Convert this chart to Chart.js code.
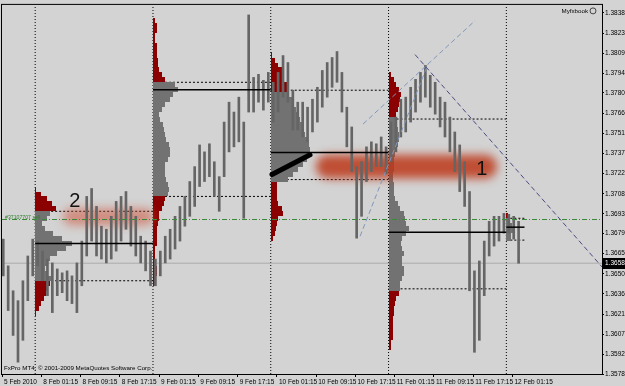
<!DOCTYPE html>
<html>
<head>
<meta charset="utf-8">
<script src="https://cdn.jsdelivr.net/npm/chart.js@4.4.1/dist/chart.umd.min.js"></script>
<style>
  html, body { margin: 0; padding: 0; background: #d3d3d3; }
  canvas { display: block; }
</style>
</head>
<body>
<canvas id="chart" width="625" height="386"></canvas>
<script>
const FONT = "'Liberation Sans', Arial, sans-serif";

// time axis in hours after 8 Feb 2010 00:00
const xMin = -6.76, xMax = 115.49;
const yMin = 1.35785, yMax = 1.38437;

const xTickValues = [-6.76, 1.25, 9.25, 17.25, 25.25, 33.25, 41.25, 49.25, 57.25, 65.25, 73.25, 81.25, 89.25, 97.25];
const xTickLabels = ["5 Feb 2010", "8 Feb 01:15", "8 Feb 09:15", "8 Feb 17:15", "9 Feb 01:15", "9 Feb 09:15",
  "9 Feb 17:15", "10 Feb 01:15", "10 Feb 09:15", "10 Feb 17:15", "11 Feb 01:15", "11 Feb 09:15",
  "11 Feb 17:15", "12 Feb 01:15"];
const yTickValues = [1.38380, 1.38235, 1.38090, 1.37945, 1.37805, 1.37660, 1.37515, 1.37370, 1.37225,
  1.37080, 1.36935, 1.36795, 1.36650, 1.36505, 1.36360, 1.36215, 1.36070, 1.35925, 1.35785];

// hourly bars
const hours = [-6.5, -5.5, -4.5, -3.5, -2.5, -1.5, -0.5,
  0.5, 1.5, 2.5, 3.5, 4.5, 5.5, 6.5, 7.5, 8.5, 9.5, 10.5, 11.5, 12.5, 13.5, 14.5, 15.5, 16.5, 17.5, 18.5, 19.5, 20.5, 21.5, 22.5, 23.5,
  24.5, 25.5, 26.5, 27.5, 28.5, 29.5, 30.5, 31.5, 32.5, 33.5, 34.5, 35.5, 36.5, 37.5, 38.5, 39.5, 40.5, 41.5, 42.5, 43.5, 44.5, 45.5, 46.5, 47.5,
  48.5, 49.5, 50.5, 51.5, 52.5, 53.5, 54.5, 55.5, 56.5, 57.5, 58.5, 59.5, 60.5, 61.5, 62.5, 63.5, 64.5, 65.5, 66.5, 67.5, 68.5, 69.5, 70.5, 71.5,
  72.5, 73.5, 74.5, 75.5, 76.5, 77.5, 78.5, 79.5, 80.5, 81.5, 82.5, 83.5, 84.5, 85.5, 86.5, 87.5, 88.5, 89.5, 90.5, 91.5, 92.5, 93.5, 94.5, 95.5,
  96.5, 97.5, 98.5];
const barHigh = [1.36754, 1.36562, 1.36383, 1.36312, 1.36455, 1.36633, 1.36754,
  1.36740, 1.36668, 1.36611, 1.36583, 1.36540, 1.36512, 1.36526, 1.36490, 1.36583, 1.36740, 1.37061, 1.37118, 1.36989, 1.36847, 1.36825, 1.36918, 1.37025, 1.37061, 1.37096, 1.36989, 1.36918, 1.36775, 1.36740, 1.36668,
  1.36611, 1.36668, 1.36775, 1.36825, 1.36918, 1.36989, 1.37061, 1.37168, 1.37275, 1.37431, 1.37381, 1.37439, 1.37310, 1.37203, 1.37595, 1.37738, 1.37667, 1.37774, 1.37595, 1.38365, 1.37916, 1.37938, 1.37895, 1.37952,
  1.37881, 1.37952, 1.38073, 1.38023, 1.37824, 1.37738, 1.37738, 1.37702, 1.37759, 1.37845, 1.37966, 1.38023, 1.38059, 1.38102, 1.37952, 1.37702, 1.37560, 1.37275, 1.37310, 1.37417, 1.37453, 1.37439, 1.37488, 1.37417,
  1.37595, 1.37631, 1.37759, 1.37774, 1.37845, 1.37902, 1.37952, 1.38002, 1.37931, 1.37881, 1.37774, 1.37738, 1.37631, 1.37524, 1.37431, 1.37310, 1.37096, 1.36526, 1.36597, 1.36740, 1.36882, 1.36918, 1.36918, 1.36939,
  1.36932, 1.36918, 1.36882];
const barLow = [1.36490, 1.36241, 1.36062, 1.35870, 1.36027, 1.36312, 1.36490,
  1.36562, 1.36455, 1.36348, 1.36226, 1.36348, 1.36369, 1.36312, 1.36291, 1.36226, 1.36419, 1.36633, 1.36740, 1.36633, 1.36611, 1.36583, 1.36611, 1.36668, 1.36740, 1.36825, 1.36704, 1.36633, 1.36583, 1.36526, 1.36419,
  1.36419, 1.36490, 1.36583, 1.36611, 1.36683, 1.36740, 1.36847, 1.36918, 1.36989, 1.37132, 1.37168, 1.37203, 1.37061, 1.36954, 1.37203, 1.37381, 1.37417, 1.37453, 1.36904, 1.37667, 1.37667, 1.37738, 1.37681, 1.37738,
  1.37595, 1.37667, 1.37774, 1.37738, 1.37538, 1.37538, 1.37488, 1.37453, 1.37524, 1.37595, 1.37702, 1.37774, 1.37845, 1.37881, 1.37667, 1.37417, 1.37239, 1.36761, 1.36918, 1.37168, 1.37239, 1.37275, 1.37275, 1.37225,
  1.37310, 1.37381, 1.37488, 1.37524, 1.37595, 1.37667, 1.37738, 1.37774, 1.37702, 1.37652, 1.37560, 1.37488, 1.37381, 1.37239, 1.37096, 1.36989, 1.36383, 1.35941, 1.36027, 1.36348, 1.36633, 1.36704, 1.36740, 1.36797,
  1.36797, 1.36754, 1.36581];

// market profiles: row top prices (last entry = bottom edge) and TPO counts (15 min each)
const dayStarts = [0, 24, 48, 72, 96];
const dayEnds = [24, 48, 72, 96, 99.7];
const prof1Price = [1.37132, 1.37096, 1.37061, 1.37025, 1.36989, 1.36954, 1.36918, 1.36882, 1.36847, 1.36811, 1.36775, 1.36740, 1.36704, 1.36668, 1.36633, 1.36597, 1.36562, 1.36526, 1.36490, 1.36455, 1.36419, 1.36383, 1.36348, 1.36312, 1.36276, 1.36241, 1.36205];
const prof1Count = [1, 5, 10, 14, 17, 12, 10, 6, 8, 15, 22, 30, 25, 18, 12, 10, 8, 10, 14, 12, 10, 9, 7, 5, 3, 1, 0];
const prof2Price = [1.38344, 1.38308, 1.38273, 1.38237, 1.38201, 1.38166, 1.38130, 1.38095, 1.38059, 1.38023, 1.37988, 1.37952, 1.37916,
  1.37881, 1.37845, 1.37810, 1.37774, 1.37738, 1.37702, 1.37667, 1.37631, 1.37595, 1.37560, 1.37524, 1.37488, 1.37453, 1.37417, 1.37381, 1.37346, 1.37310, 1.37275, 1.37239, 1.37203, 1.37168, 1.37132, 1.37096,
  1.37061, 1.37025, 1.36989, 1.36954, 1.36918, 1.36882, 1.36847, 1.36811, 1.36775, 1.36740, 1.36704, 1.36668, 1.36633, 1.36597, 1.36562, 1.36526, 1.36490, 1.36455, 1.36419];
const prof2Count = [2, 3, 3, 2, 2, 3, 3, 3, 4, 4, 5, 7, 10,
  18, 20, 16, 14, 10, 7, 5, 6, 8, 9, 10, 11, 13, 14, 14, 12, 10, 10, 10, 11, 12, 13, 12,
  10, 9, 7, 5, 5, 4, 3, 3, 3, 3, 2, 2, 2, 2, 3, 3, 2, 2, 0];
const prof3Price = [1.38095, 1.38059, 1.38023, 1.37988, 1.37952, 1.37916, 1.37881, 1.37845,
  1.37810, 1.37774, 1.37738, 1.37702, 1.37667, 1.37631, 1.37595, 1.37560, 1.37524, 1.37488, 1.37453, 1.37417, 1.37381, 1.37346, 1.37310, 1.37275, 1.37239, 1.37203,
  1.37168, 1.37132, 1.37096, 1.37061, 1.37025, 1.36989, 1.36954, 1.36918, 1.36882, 1.36847, 1.36811, 1.36775, 1.36740];
const prof3Count = [1, 3, 6, 9, 10, 11, 13, 13,
  15, 17, 18, 20, 22, 24, 25, 27, 28, 30, 31, 32, 31, 29, 26, 22, 18, 14,
  5, 5, 5, 5, 6, 9, 10, 6, 5, 4, 3, 2, 0];
const prof4Price = [1.37952, 1.37916, 1.37881, 1.37845, 1.37810, 1.37774, 1.37738, 1.37702, 1.37667,
  1.37631, 1.37595, 1.37560, 1.37524, 1.37488, 1.37453, 1.37417, 1.37381, 1.37346, 1.37310, 1.37275, 1.37239, 1.37203, 1.37168, 1.37132, 1.37096, 1.37061, 1.37025, 1.36989, 1.36954, 1.36918, 1.36882, 1.36847, 1.36811, 1.36775, 1.36740, 1.36704, 1.36668, 1.36633, 1.36597, 1.36562, 1.36526, 1.36490, 1.36455, 1.36419,
  1.36383, 1.36348, 1.36312, 1.36276, 1.36241, 1.36205, 1.36170, 1.36134, 1.36098, 1.36062, 1.36027, 1.35991, 1.35955];
const prof4Count = [2, 4, 6, 8, 10, 9, 8, 7, 6,
  5, 6, 7, 8, 8, 7, 6, 5, 4, 4, 4, 3, 3, 4, 4, 4, 5, 7, 9, 12, 13, 14, 16, 14, 11, 10, 11, 12, 11, 11, 12, 12, 11, 9, 9,
  8, 6, 5, 4, 4, 3, 3, 3, 3, 3, 2, 2, 0];
const prof5Price = [1.36940, 1.36904, 1.36868, 1.36833, 1.36797, 1.36740];
const prof5Count = [2, 3, 5, 6, 4, 0];

const vahPrice = [1.36954, 1.37881, 1.37824, 1.37617, 1.36904];
const valPrice = [1.36455, 1.37061, 1.37182, 1.36397, 1.36747];
const pocPrice = [1.36722, 1.37827, 1.37377, 1.36804, 1.36840];

const tradePrice = 1.36895, tradeLabel = "#37107707 sell";
const lastPrice = 1.36581;

// hand drawn objects [time, price]
const trendA = [[66.2, 1.36775], [80.0, 1.38009]];
const trendB = [[66.8, 1.37581], [89.6, 1.38323]];
const trendC = [[77.4, 1.38080], [115.5, 1.36554]];
const thickLine = [[48.25, 1.37218], [56.0, 1.37360]];
// glow boxes [t0, t1, priceTop, priceBottom]
const glow1 = [57.2, 94.1, 1.37360, 1.37189];
const glow2 = [5.66, 24.2, 1.36975, 1.36854];
const mark1 = [91.0, 1.37253];
const mark2 = [8.1, 1.37025];

const profiles = [
  { start: dayStarts[0], price: prof1Price, count: prof1Count, vah: vahPrice[0], val: valPrice[0] },
  { start: dayStarts[1], price: prof2Price, count: prof2Count, vah: vahPrice[1], val: valPrice[1] },
  { start: dayStarts[2], price: prof3Price, count: prof3Count, vah: vahPrice[2], val: valPrice[2] },
  { start: dayStarts[3], price: prof4Price, count: prof4Count, vah: vahPrice[3], val: valPrice[3] },
  { start: dayStarts[4], price: prof5Price, count: prof5Count, vah: vahPrice[4], val: valPrice[4] }
];
const TPO_HOURS = 0.25;

const pts = arr => arr.map(p => ({ x: p[0], y: p[1] }));
const hline = (x0, x1, p) => [{ x: x0, y: p }, { x: x1, y: p }];

const datasets = [];
datasets.push({ type: 'line', data: pts(thickLine), borderColor: '#000', borderWidth: 5, borderCapStyle: 'round', pointRadius: 0, order: 0 });
[trendA, trendB].forEach(t => datasets.push({ type: 'line', data: pts(t), borderColor: '#7f98bc', borderWidth: 1, borderDash: [5, 3], pointRadius: 0, order: 1 }));
datasets.push({ type: 'line', data: pts(trendC), borderColor: '#4a4a82', borderWidth: 1, borderDash: [5, 3], pointRadius: 0, order: 1 });
datasets.push({ type: 'line', data: hline(xMin, xMax, tradePrice), borderColor: '#3a8a3a', borderWidth: 1, borderDash: [5, 2, 1, 2], pointRadius: 0, order: 2 });
pocPrice.forEach((p, i) => datasets.push({ type: 'line', data: hline(dayStarts[i], dayEnds[i], p), borderColor: '#000', borderWidth: 1.5, pointRadius: 0, order: 3 }));
datasets.push({
  type: 'bar', label: 'price', order: 5,
  data: hours.map((h, i) => ({ x: h, y: [barLow[i], barHigh[i]] })),
  backgroundColor: '#656565', borderWidth: 0, barThickness: 2, grouped: false
});
datasets.push({ type: 'line', data: hline(xMin, xMax, lastPrice), borderColor: '#ababab', borderWidth: 1, pointRadius: 0, order: 6 });
vahPrice.forEach((p, i) => datasets.push({ type: 'line', data: hline(dayStarts[i], dayEnds[i], p), borderColor: '#000', borderWidth: 1, borderDash: [2, 2], pointRadius: 0, order: 7 }));
valPrice.forEach((p, i) => datasets.push({ type: 'line', data: hline(dayStarts[i], dayEnds[i], p), borderColor: '#000', borderWidth: 1, borderDash: [2, 2], pointRadius: 0, order: 7 }));
dayStarts.forEach(d => datasets.push({ type: 'line', data: [{ x: d, y: yMin }, { x: d, y: yMax }], borderColor: '#000', borderWidth: 1, borderDash: [1, 2], pointRadius: 0, order: 8 }));

function drawGlow(ctx, x, y, g, color) {
  const l = x.getPixelForValue(g[0]), r = x.getPixelForValue(g[1]);
  const t = y.getPixelForValue(g[2]), b = y.getPixelForValue(g[3]);
  const rad = (b - t) / 2;
  ctx.save();
  ctx.filter = 'blur(5px)';
  ctx.fillStyle = color;
  ctx.beginPath();
  ctx.moveTo(l + rad, t);
  ctx.lineTo(r - rad, t);
  ctx.arc(r - rad, t + rad, rad, -Math.PI / 2, Math.PI / 2);
  ctx.lineTo(l + rad, b);
  ctx.arc(l + rad, t + rad, rad, Math.PI / 2, Math.PI * 1.5);
  ctx.closePath();
  ctx.fill();
  ctx.restore();
}

const mtPlugin = {
  id: 'mt4',
  beforeDraw(chart) {
    const ctx = chart.ctx;
    ctx.save();
    ctx.fillStyle = '#d3d3d3';
    ctx.fillRect(0, 0, chart.width, chart.height);
    ctx.restore();
  },
  beforeDatasetDraw(chart, args) {
    if (args.meta.type !== 'bar') return;
    const { ctx, chartArea: a, scales: { x, y } } = chart;
    ctx.save();
    ctx.beginPath();
    ctx.rect(a.left, a.top, a.right - a.left, a.bottom - a.top);
    ctx.clip();
    profiles.forEach(pr => {
      const x0 = x.getPixelForValue(pr.start);
      for (let i = 0; i < pr.price.length - 1; i++) {
        const top = y.getPixelForValue(pr.price[i]);
        const bot = y.getPixelForValue(pr.price[i + 1]);
        const w = x.getPixelForValue(pr.start + pr.count[i] * TPO_HOURS) - x0;
        const mid = (pr.price[i] + pr.price[i + 1]) / 2;
        ctx.fillStyle = (mid <= pr.vah && mid >= pr.val) ? '#727272' : '#8b0000';
        ctx.fillRect(Math.round(x0), Math.round(top), Math.round(w), Math.round(bot) - Math.round(top));
      }
    });
    drawGlow(ctx, x, y, glow2, 'rgba(205,80,55,0.55)');
    drawGlow(ctx, x, y, glow1, 'rgba(188,55,25,0.85)');
    ctx.restore();
  },
  afterDatasetsDraw(chart) {
    const { ctx, chartArea: a, scales: { x, y } } = chart;
    ctx.save();
    ctx.fillStyle = '#111';
    ctx.font = "20px 'Liberation Sans', Arial, sans-serif";
    ctx.textAlign = 'center';
    ctx.textBaseline = 'middle';
    ctx.fillText('1', x.getPixelForValue(mark1[0]), y.getPixelForValue(mark1[1]));
    ctx.fillText('2', x.getPixelForValue(mark2[0]), y.getPixelForValue(mark2[1]));

    ctx.textAlign = 'left';
    ctx.textBaseline = 'bottom';
    ctx.font = '5.2px ' + FONT;
    ctx.fillStyle = '#2f7f2f';
    ctx.fillText(tradeLabel, a.left + 3, y.getPixelForValue(tradePrice) + 1);

    ctx.fillStyle = '#000';
    ctx.font = '6.2px ' + FONT;
    ctx.textBaseline = 'middle';
    ctx.fillText('FxPro MT4, \u00a9 2001-2009 MetaQuotes Software Corp.', a.left + 2, a.bottom - 6);
    ctx.textAlign = 'right';
    ctx.fillText('Myfxbook', a.right - 14, a.top + 6);
    ctx.strokeStyle = '#444';
    ctx.lineWidth = 1;
    ctx.beginPath();
    ctx.arc(a.right - 9, a.top + 6, 3, 0, Math.PI * 2);
    ctx.stroke();
    ctx.restore();
  },
  afterDraw(chart) {
    const { ctx, chartArea: a, scales: { y } } = chart;
    ctx.save();
    ctx.strokeStyle = '#000';
    ctx.lineWidth = 1;
    ctx.strokeRect(a.left - 0.5, a.top - 0.5, a.right - a.left + 1, a.bottom - a.top + 1);
    const py = Math.round(y.getPixelForValue(lastPrice));
    ctx.fillStyle = '#000';
    ctx.fillRect(a.right + 1, py - 5, chart.width - a.right, 11);
    ctx.fillStyle = '#fff';
    ctx.font = '6.5px ' + FONT;
    ctx.textBaseline = 'middle';
    ctx.fillText(lastPrice.toFixed(5), a.right + 3, py + 0.5);
    ctx.restore();
  }
};

new Chart(document.getElementById('chart'), {
  type: 'bar',
  data: { datasets },
  options: {
    responsive: false,
    animation: false,
    devicePixelRatio: 1,
    layout: { padding: { left: 2, top: 2, right: 0, bottom: 0 } },
    plugins: { legend: { display: false }, tooltip: { enabled: false } },
    scales: {
      x: {
        type: 'linear', min: xMin, max: xMax, offset: false,
        afterFit(s) { s.height = 12; },
        afterBuildTicks(s) { s.ticks = xTickValues.map(v => ({ value: v })); },
        ticks: {
          autoSkip: false, maxRotation: 0, align: 'start', labelOffset: 2, padding: 1,
          color: '#000', font: { family: FONT, size: 6.5 },
          callback: (v, i) => xTickLabels[i]
        },
        grid: { drawOnChartArea: false, tickLength: 3, color: '#000', offset: false },
        border: { color: '#000' }
      },
      y: {
        type: 'linear', position: 'right', min: yMin, max: yMax,
        afterFit(s) { s.width = 23; },
        afterBuildTicks(s) { s.ticks = yTickValues.map(v => ({ value: v })); },
        ticks: {
          padding: 1, color: '#000', font: { family: FONT, size: 6.5 },
          callback: v => v.toFixed(5)
        },
        grid: { drawOnChartArea: false, tickLength: 2, color: '#000' },
        border: { color: '#000' }
      }
    }
  },
  plugins: [mtPlugin]
});
</script>
</body>
</html>
